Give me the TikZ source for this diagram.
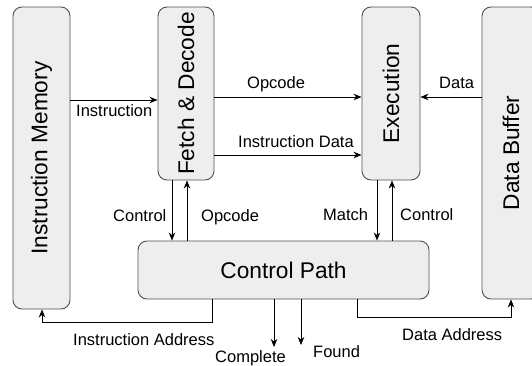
\documentclass[tikz,border=0pt]{standalone}
\usepackage{fontspec}
\setmainfont{Liberation Sans}
\usetikzlibrary{arrows.meta}
\definecolor{boxfill}{HTML}{EEEEEE}
\definecolor{boxline}{HTML}{505050}
\begin{document}
\begin{tikzpicture}[x=1pt,y=-1pt,
  box/.style={draw=boxline, fill=boxfill, rounded corners=9pt, line width=0.9pt,
              inner sep=0pt, font=\fontsize{22.7}{27}\selectfont},
  lbl/.style={font=\fontsize{16.5}{19}\selectfont, inner sep=0pt, anchor=base west},
  arr/.style={line width=0.9pt, -{Stealth[length=8pt,width=6.5pt,inset=2.5pt]}},
  wire/.style={line width=0.9pt}]
\useasboundingbox (0,0) rectangle (532,366);
\clip (0,0) rectangle (532,366);

% functional blocks
\node[box, minimum width=57pt, minimum height=302pt] (im) at (41.5,158) {\rotatebox{90}{Instruction Memory}};
\node[box, minimum width=56pt, minimum height=173pt] (fd) at (186,93.5) {\rotatebox{90}{Fetch \& Decode}};
\node[box, minimum width=58pt, minimum height=173pt] (ex) at (391,93.5) {\rotatebox{90}{Execution}};
\node[box, minimum width=58pt, minimum height=292pt] (db) at (511,153) {\rotatebox{90}{Data Buffer}};
\node[box, minimum width=291pt, minimum height=58pt] (cp) at (283.5,270) {Control Path};

% routing levels and bends
\coordinate (yInstr) at (0,100);
\coordinate (yOp) at (0,97);
\coordinate (yIData) at (0,155);
\coordinate (xCtlA) at (172,0);
\coordinate (xOpB) at (187,0);
\coordinate (xMatch) at (377,0);
\coordinate (xCtlB) at (392,0);
\coordinate (ia1) at (212,322);
\coordinate (ia2) at (42,322);
\coordinate (da1) at (357,317);
\coordinate (da2) at (511,317);
\coordinate (cmp) at (274,347);
\coordinate (fnd) at (301,345);

% connectors
\draw[arr] (im.east |- yInstr) -- (fd.west |- yInstr);
\draw[arr] (fd.east |- yOp) -- (ex.west |- yOp);
\draw[arr] (fd.east |- yIData) -- (ex.west |- yIData);
\draw[arr] (db.west |- yOp) -- (ex.east |- yOp);
\draw[arr] (fd.south -| xCtlA) -- (cp.north -| xCtlA);
\draw[arr] (cp.north -| xOpB) -- (fd.south -| xOpB);
\draw[arr] (ex.south -| xMatch) -- (cp.north -| xMatch);
\draw[arr] (cp.north -| xCtlB) -- (ex.south -| xCtlB);
\draw[arr] (cp.south -| ia1) -- (ia1) -- (ia2) -- (im.south -| ia2);
\draw[arr] (cp.south -| da1) -- (da1) -- (da2) -- (db.south -| da2);
\draw[arr] (cp.south -| cmp) -- (cmp);
\draw[arr] (cp.south -| fnd) -- (fnd);

% connector labels
\node[lbl] (lInstr) at (76,117) {Instruction};
\node[lbl] (lOp) at (247,89) {Opcode};
\node[lbl] (lIData) at (238,148) {Instruction Data};
\node[lbl] (lData) at (439,89) {Data};
\node[lbl] (lCtlA) at (113,221) {Control};
\node[lbl] (lOpB) at (201,221) {Opcode};
\node[lbl] (lMatch) at (323,220) {Match};
\node[lbl] (lCtlB) at (400,220) {Control};
\node[lbl] (lIA) at (73,345) {Instruction Address};
\node[lbl] (lDA) at (402,340) {Data Address};
\node[lbl] (lCmp) at (215,362) {Complete};
\node[lbl] (lFnd) at (313,357) {Found};
\end{tikzpicture}
\end{document}
